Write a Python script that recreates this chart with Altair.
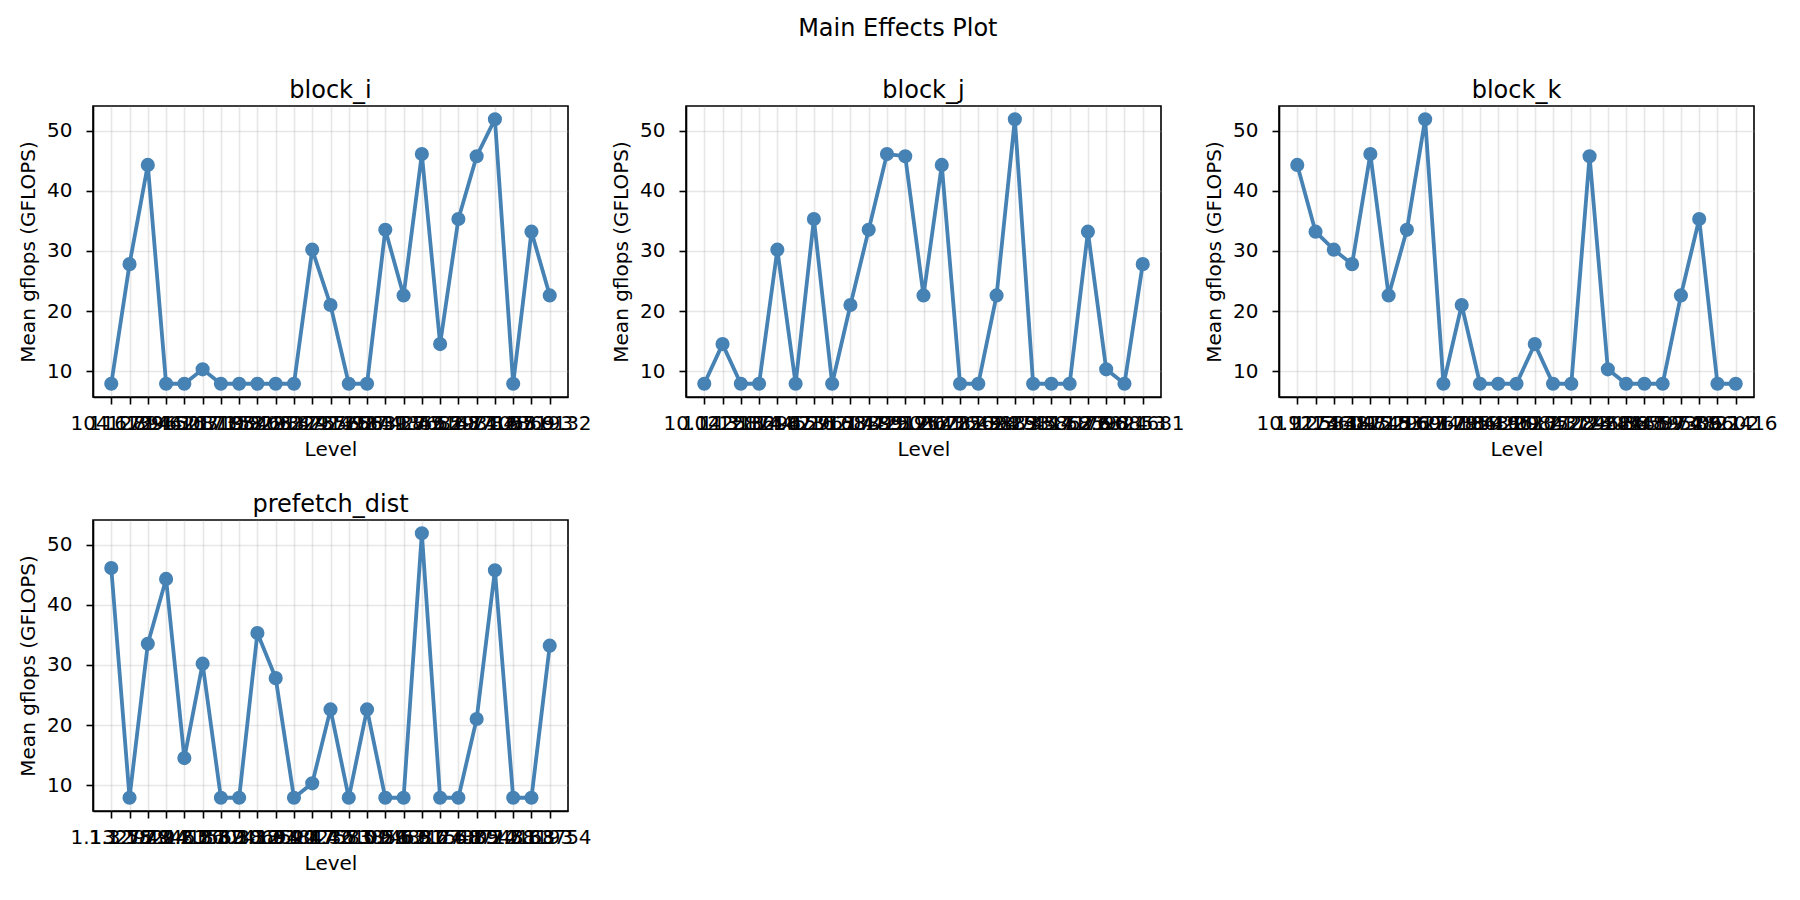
import altair as alt
import pandas as pd

# ---- data ----
factors = ["block_i", "block_j", "block_k", "prefetch_dist"]

block_i_levels = ["104.172", "116.894", "127.963", "139.421", "146.087", "152.719", "163.358",
                  "171.846", "185.293", "192.637", "203.475", "218.913", "224.568", "237.184",
                  "249.831", "256.427", "27.9356", "31.7682", "38.2147", "45.5931", "52.8716",
                  "63.4058", "71.2869", "84.5193", "97.6132"]
block_i_vals = [7.9, 27.8, 44.3, 7.9, 7.9, 10.3, 7.9, 7.9, 7.9, 7.9, 7.9, 30.2, 21.0, 7.9, 7.9,
                33.5, 22.6, 46.1, 14.5, 35.3, 45.75, 51.9, 7.9, 33.2, 22.6]

block_j_levels = ["10.1425", "102.318", "113.874", "121.296", "136.452", "14.8731", "142.967",
                  "157.204", "16.3389", "168.725", "174.512", "189.036", "19.7643", "195.281",
                  "207.649", "21.5098", "226.183", "238.745", "24.9317", "251.862", "33.4176",
                  "47.2598", "58.6324", "72.0853", "96.1681"]
block_j_vals = [7.9, 14.5, 7.9, 7.9, 30.2, 7.9, 35.3, 7.9, 21.0, 33.5, 46.1, 45.75, 22.6, 44.3,
                7.9, 7.9, 22.6, 51.9, 7.9, 7.9, 7.9, 33.2, 10.3, 7.9, 27.8]

block_k_levels = ["10.9174", "112.583", "125.609", "13.4872", "131.745", "148.296", "15.8321",
                  "153.967", "160.438", "17.2954", "178.631", "184.209", "19.6517", "196.843",
                  "20.3728", "205.174", "217.462", "229.038", "23.8465", "241.597", "36.1952",
                  "48.7306", "59.4821", "74.9602", "88.2416"]
block_k_vals = [44.3, 33.2, 30.2, 27.8, 46.1, 22.6, 33.5, 51.9, 7.9, 21.0, 7.9, 7.9, 7.9, 14.5,
                7.9, 7.9, 45.75, 10.3, 7.9, 7.9, 7.9, 22.6, 35.3, 7.9, 7.9]

prefetch_levels = ["1.13275", "1.32948", "1.58214", "1.79463", "2.04187", "2.31569", "2.56038",
                   "2.87412", "3.10694", "3.38521", "3.61847", "3.90236", "4.17583", "4.42109",
                   "4.73856", "5.01462", "5.29837", "5.63174", "5.91548", "6.27305", "6.58712",
                   "6.89431", "7.24168", "7.58193", "7.83754"]
prefetch_vals = [46.1, 7.9, 33.5, 44.3, 14.5, 30.2, 7.9, 7.9, 35.3, 27.8, 7.9, 10.3, 22.6, 7.9,
                 22.6, 7.9, 7.9, 51.9, 7.9, 7.9, 21.0, 45.75, 7.9, 7.9, 33.2]

y_ticks = [10, 20, 30, 40, 50]

COLOR = "#4682b4"
FONT = "DejaVu Sans"


def panel(name, levels, vals):
    df = pd.DataFrame({"level": levels, "value": vals})
    base = alt.Chart(df).encode(
        x=alt.X("level:N", sort=levels,
                scale=alt.Scale(type="point", padding=1.2),
                axis=alt.Axis(title="Level", labelAngle=0, labelOverlap=False,
                              labelBound=False, labelFlush=False, labelPadding=9,
                              titlePadding=6)),
        y=alt.Y("value:Q",
                scale=alt.Scale(domain=[5.7, 54.1], nice=False, zero=False),
                axis=alt.Axis(title="Mean gflops (GFLOPS)", values=y_ticks,
                              labelPadding=14, titlePadding=8)),
    )
    line = base.mark_line(color=COLOR, strokeWidth=3.8)
    pts = base.mark_circle(color=COLOR, size=200, opacity=1)
    return (line + pts).properties(
        width=475, height=291,
        title=alt.TitleParams(name, fontSize=24, font=FONT, fontWeight="normal",
                              color="black", offset=3),
    )


charts = [
    panel("block_i", block_i_levels, block_i_vals),
    panel("block_j", block_j_levels, block_j_vals),
    panel("block_k", block_k_levels, block_k_vals),
    panel("prefetch_dist", prefetch_levels, prefetch_vals),
]

chart = alt.concat(
    *charts, columns=3, spacing={"row": 123, "column": 118}, bounds="flush"
).properties(
    title=alt.TitleParams("Main Effects Plot", fontSize=24, font=FONT,
                          fontWeight="normal", color="black", anchor="middle", offset=37),
    padding={"left": 9, "top": 9, "right": 5, "bottom": 5},
).configure(
    background="white",
).configure_view(
    stroke="black", strokeWidth=1.6,
).configure_axis(
    domainColor="black", domainWidth=1.6,
    tickColor="black", tickWidth=1.6, tickSize=7,
    labelFont=FONT, labelFontSize=20, labelColor="black",
    titleFont=FONT, titleFontSize=20, titleFontWeight="normal", titleColor="black",
    grid=True, gridColor="#b0b0b0", gridOpacity=0.3, gridWidth=1.6,
)

chart.save("out.html", embed_options={"renderer": "svg", "actions": False})
